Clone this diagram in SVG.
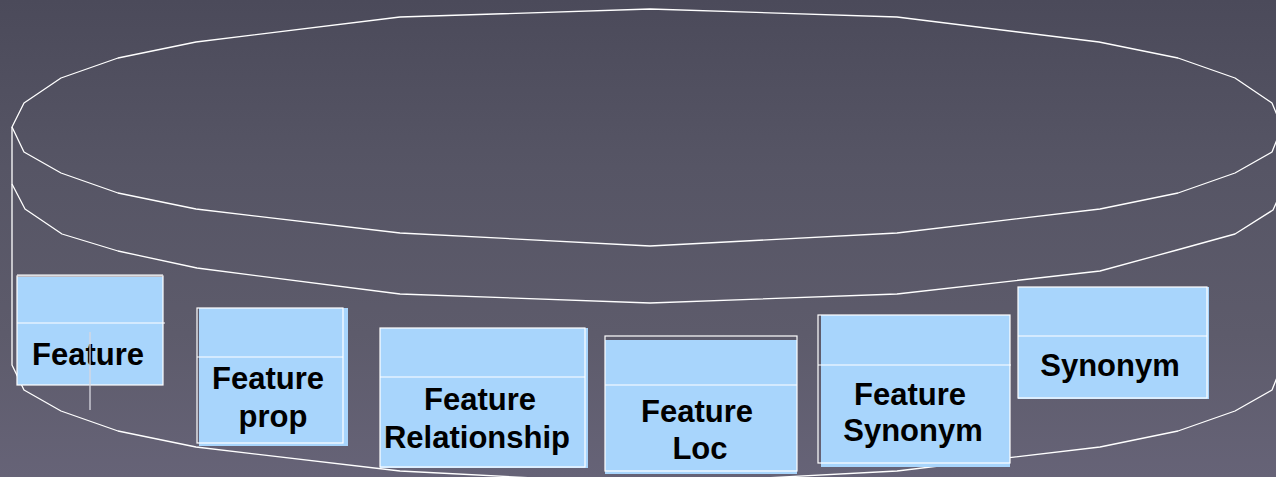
<svg xmlns="http://www.w3.org/2000/svg" width="1276" height="477" viewBox="0 0 1276 477">
<defs>
<linearGradient id="bg" x1="0" y1="0" x2="0" y2="1">
<stop offset="0" stop-color="#4b4a5a"/>
<stop offset="0.35" stop-color="#565565"/>
<stop offset="0.7" stop-color="#5d5b6b"/>
<stop offset="1" stop-color="#666377"/>
</linearGradient>
<style>
.cyl{fill:none;stroke:#ffffff;stroke-width:1.3;stroke-linejoin:round}
.fill{fill:#a8d5fc}
.bord{fill:none;stroke:#ffffff;stroke-width:1.2}
.div{stroke:#ffffff;stroke-width:1.2}
.lbl{font-family:"Liberation Sans",Arial,sans-serif;font-weight:bold;font-size:31px;fill:#000000;text-anchor:middle}
</style>
</defs>
<rect x="0" y="0" width="1276" height="477" fill="url(#bg)"/>
<g id="cylinder">
<polygon class="cyl" points="12,127 24,103 61,78 118,58 196,42 400,17 650,9 897,17 1099,42 1178,58 1235,78 1272,103 1282,127 1272,152 1235,173 1178,193 1100,209 897,233 650,246 400,233 196,209 118,193 61,173 24,152"/>
<polyline class="cyl" points="12,184 25,209 62,234 118,251 197,268 400,294 650,303 897,294 1100,271 1177,250 1235,234 1273,210 1282,190"/>
<polyline class="cyl" points="12,127 12,365 24,390 61,411 118,431 196,447 400,471 650,484 897,471 1100,447 1178,431 1235,411 1272,390 1282,365"/>
</g>
<g id="node-feature">
<rect class="fill" x="17" y="277" width="146" height="108"/>
<line x1="17" y1="275" x2="163" y2="275" stroke="#b0b0b8" stroke-width="2"/>
<rect class="bord" x="17" y="276" width="146" height="109"/>
<line class="div" x1="17" y1="323" x2="165" y2="323"/>
<text class="lbl" x="88" y="365">Feature</text>
<line x1="90" y1="332" x2="90" y2="410" stroke="#d8d8e0" stroke-width="1.3"/>
</g>
<g id="node-feature-prop">
<rect class="fill" x="199" y="308" width="149" height="138"/>
<rect class="bord" x="197" y="308" width="146" height="135"/>
<line class="div" x1="197" y1="357" x2="343" y2="357"/>
<text class="lbl" x="268" y="389">Feature</text>
<text class="lbl" x="273" y="427">prop</text>
</g>
<g id="node-feature-relationship">
<rect class="fill" x="380" y="328" width="208" height="140"/>
<rect class="bord" x="380" y="328" width="205" height="139"/>
<line class="div" x1="380" y1="377" x2="585" y2="377"/>
<text class="lbl" x="480" y="410">Feature</text>
<text class="lbl" x="477" y="448">Relationship</text>
</g>
<g id="node-feature-loc">
<rect class="fill" x="605" y="340" width="192" height="134"/>
<rect class="bord" x="605" y="336" width="192" height="135"/>
<line class="div" x1="605" y1="385" x2="797" y2="385"/>
<text class="lbl" x="697" y="422">Feature</text>
<text class="lbl" x="700" y="459">Loc</text>
</g>
<g id="node-feature-synonym">
<rect class="fill" x="821" y="315" width="189" height="152"/>
<rect class="bord" x="818" y="315" width="192" height="148"/>
<line class="div" x1="818" y1="365" x2="1011" y2="365"/>
<text class="lbl" x="910" y="405">Feature</text>
<text class="lbl" x="913" y="441">Synonym</text>
</g>
<g id="node-synonym">
<rect class="fill" x="1018" y="287" width="191" height="112"/>
<rect class="bord" x="1018" y="287" width="189" height="111"/>
<line class="div" x1="1018" y1="336" x2="1207" y2="336"/>
<text class="lbl" x="1110" y="376">Synonym</text>
</g>
<g id="connectors"/>
</svg>
